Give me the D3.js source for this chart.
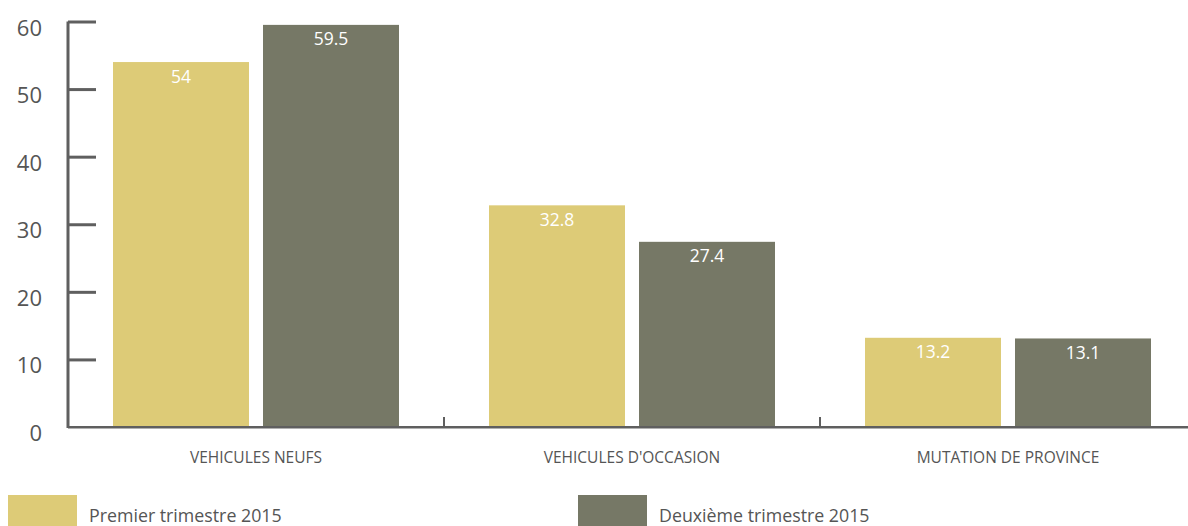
<!DOCTYPE html>
<html><head><meta charset="utf-8">
<script src="https://cdn.jsdelivr.net/npm/d3@7"></script>
<style>body{margin:0;background:#fff}svg{display:block}</style>
</head><body>
<svg id="c" width="1188" height="526"></svg>
<script>
const categories = ["VEHICULES NEUFS", "VEHICULES D'OCCASION", "MUTATION DE PROVINCE"];
const seriesNames = ["Premier trimestre 2015", "Deuxième trimestre 2015"];
const serie1 = [54, 32.8, 13.2];
const serie2 = [59.5, 27.4, 13.1];
const yTicks = [0, 10, 20, 30, 40, 50, 60];
const colors = ["#ddcb77", "#767866"];

const svg = d3.select("#c");
const font = "'Open Sans', sans-serif";
const x0 = d3.scaleBand().domain(categories).range([68, 1196]).paddingInner(0).paddingOuter(0);
const y = d3.scaleLinear().domain([0, 60]).range([427, 21.5]);
const x1 = d3.scaleBand().domain([0, 1]).range([45, 376 - 45]).paddingInner(14 / 150).paddingOuter(0);

const data = categories.map((c, i) => ({c, v: [serie1[i], serie2[i]]}));

// bars
const g = svg.append("g");
const grp = g.selectAll("g.grp").data(data).join("g").attr("transform", d => `translate(${x0(d.c)},0)`);
grp.selectAll("rect").data(d => d.v.map((v, k) => ({v, k}))).join("rect")
  .attr("x", d => x1(d.k)).attr("width", x1.bandwidth())
  .attr("y", d => y(d.v)).attr("height", d => y(0) - y(d.v))
  .attr("fill", d => colors[d.k]);
grp.selectAll("text").data(d => d.v.map((v, k) => ({v, k}))).join("text")
  .attr("x", d => x1(d.k) + x1.bandwidth() / 2).attr("y", d => y(d.v) + 20.5)
  .attr("text-anchor", "middle").attr("fill", "#fff")
  .style("font-family", font).style("font-size", "17.5px")
  .text(d => d.v);

// y axis
const yAxis = d3.axisRight(y).tickValues(yTicks).tickSize(28).tickFormat("");
const ya = svg.append("g").attr("transform", "translate(68,0)").call(yAxis);
ya.select(".domain").attr("stroke", "#5f5f5f").attr("stroke-width", 3).attr("d", `M0,${y(60)}V${y(0)+1}`);
ya.selectAll(".tick line").attr("stroke", "#5f5f5f").attr("stroke-width", 3);
svg.append("g").selectAll("text").data(yTicks).join("text")
  .attr("x", 42).attr("y", d => y(d) + 14).attr("text-anchor", "end")
  .attr("fill", "#555").style("font-family", font).style("font-size", "22px")
  .text(d => d);

// x axis
svg.append("line").attr("x1", 68).attr("x2", 1188).attr("y1", 427).attr("y2", 427)
  .attr("stroke", "#5f5f5f").attr("stroke-width", 2);
svg.append("line").attr("x1", 68).attr("x2", 1188).attr("y1", 428.5).attr("y2", 428.5)
  .attr("stroke", "#b0b0b0").attr("stroke-width", 1);
svg.append("g").selectAll("line").data(categories.slice(1)).join("line")
  .attr("x1", d => x0(d)).attr("x2", d => x0(d)).attr("y1", 417).attr("y2", 427)
  .attr("stroke", "#5f5f5f").attr("stroke-width", 2);
svg.append("g").selectAll("text").data(categories).join("text")
  .attr("x", d => x0(d) + x0.bandwidth() / 2).attr("y", 462.5).attr("text-anchor", "middle")
  .attr("fill", "#555").style("font-family", font).style("font-size", "15.5px")
  .text(d => d);

// legend
const legX = [8, 578];
const lg = svg.append("g").selectAll("g").data(seriesNames).join("g")
  .attr("transform", (d, i) => `translate(${legX[i]},495)`);
lg.append("rect").attr("width", 69).attr("height", 32).attr("fill", (d, i) => colors[i]);
lg.append("text").attr("x", 81).attr("y", 27).attr("fill", "#555")
  .style("font-family", font).style("font-size", "17.8px").text(d => d);
</script>
</body></html>
